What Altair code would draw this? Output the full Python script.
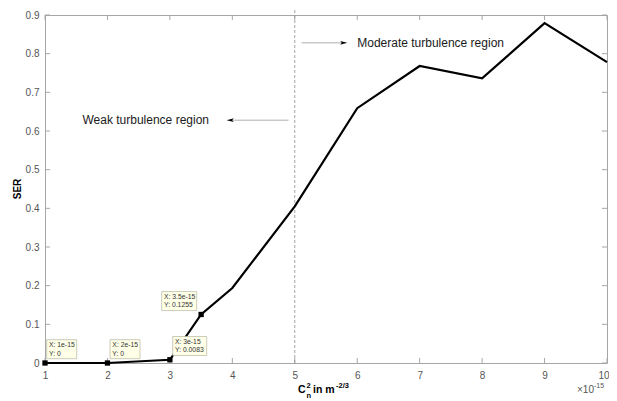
import altair as alt
import pandas as pd

# ---- data ----
x_vals = [1, 2, 3, 3.5, 4, 5, 6, 7, 8, 9, 10]
ser_vals = [0, 0, 0.0083, 0.1255, 0.194, 0.405, 0.659, 0.768, 0.736, 0.879, 0.778]

tip_x = [1, 2, 3, 3.5]
tip_y = [0, 0, 0.0083, 0.1255]
tip_xlabel = ["X: 1e-15", "X: 2e-15", "X: 3e-15", "X: 3.5e-15"]
tip_ylabel = ["Y: 0", "Y: 0", "Y: 0.0083", "Y: 0.1255"]

x_ticks = [1, 2, 3, 4, 5, 6, 7, 8, 9, 10]
y_ticks = [0, 0.1, 0.2, 0.3, 0.4, 0.5, 0.6, 0.7, 0.8, 0.9]

boundary_x = 5
boundary_top = 0.923

moderate_text = "Moderate turbulence region"
moderate_pos = (6.0, 0.828)
moderate_arrow = (5.11, 5.83)  # from, tip
weak_text = "Weak turbulence region"
weak_pos = (1.60, 0.628)
weak_arrow = (4.90, 3.92)  # from, tip

# ---- layout (pixels) ----
W, H = 562, 348
FONT = "Liberation Sans"
GRAY = "#a6a6a6"
LABEL = "#555555"
# datatip box: centre offset from point, width
tip_layout = [(16.7, -13.8, 30), (17.6, -13.8, 30), (19.8, -13.8, 34), (-21.9, -13.4, 35)]
TIP_H = 19

xs = alt.Scale(domain=[1, 10], nice=False, zero=False)
ys = alt.Scale(domain=[0, 0.9], nice=False, zero=False)
xaxis = alt.Axis(values=x_ticks, title=None, ticks=False, domain=False, grid=False,
                 labelPadding=7, labelFontSize=10, labelColor=LABEL, labelFont=FONT,
                 labelFlush=False,
                 labelAlign=alt.ConditionalAxisLabelAlign(
                     condition={"test": "datum.value == 10", "value": "right"}, value="center"),
                 labelOffset=alt.ConditionalAxisNumber(
                     condition={"test": "datum.value == 10", "value": 2}, value=0))
yaxis = alt.Axis(values=y_ticks, title=None, ticks=False, domain=False, grid=False,
                 labelPadding=6, labelFontSize=10, labelColor=LABEL, labelFont=FONT,
                 labelExpr="datum.value == 0 ? '0' : format(datum.value, '.1f')")


def X(f):
    return alt.X(f + ":Q", scale=xs, axis=xaxis)


def Y(f):
    return alt.Y(f + ":Q", scale=ys, axis=yaxis)


main_df = pd.DataFrame({"x": x_vals, "ser": ser_vals})
xt_df = pd.DataFrame({"x": x_ticks})
yt_df = pd.DataFrame({"y": y_ticks})

layers = []
# inner ticks
layers.append(alt.Chart(xt_df).mark_rule(color=GRAY, strokeWidth=1).encode(
    x=X("x"), y=alt.value(H), y2=alt.value(H - 5)))
layers.append(alt.Chart(xt_df).mark_rule(color=GRAY, strokeWidth=1).encode(
    x=X("x"), y=alt.value(0), y2=alt.value(5)))
layers.append(alt.Chart(yt_df).mark_rule(color=GRAY, strokeWidth=1).encode(
    y=Y("y"), x=alt.value(0), x2=alt.value(5)))
layers.append(alt.Chart(yt_df).mark_rule(color=GRAY, strokeWidth=1).encode(
    y=Y("y"), x=alt.value(W), x2=alt.value(W - 5)))

# dashed boundary
bdf = pd.DataFrame({"x": [boundary_x], "y0": [0], "y1": [boundary_top]})
layers.append(alt.Chart(bdf).mark_rule(color="#9a9a9a", strokeWidth=0.9, strokeDash=[3, 2]).encode(
    x=X("x"), y=Y("y0"), y2="y1:Q"))

# main line
layers.append(alt.Chart(main_df).mark_line(color="black", strokeWidth=2.2).encode(
    x=X("x"), y=Y("ser")))

# markers
tip_df = pd.DataFrame({"x": tip_x, "ser": tip_y})
layers.append(alt.Chart(tip_df).mark_square(size=28, color="black", opacity=1).encode(
    x=X("x"), y=Y("ser")))

# arrows
arr_df = pd.DataFrame({"x": [moderate_arrow[0], weak_arrow[0]],
                       "x2": [moderate_arrow[1], weak_arrow[1]],
                       "y": [moderate_pos[1], weak_pos[1]]})
layers.append(alt.Chart(arr_df).mark_rule(color="#9a9a9a", strokeWidth=0.8).encode(
    x=X("x"), x2="x2:Q", y=Y("y")))
head_r = "M-1,-0.55L1,0L-1,0.55L-0.55,0Z"
head_l = "M1,-0.55L-1,0L1,0.55L0.55,0Z"
layers.append(alt.Chart(pd.DataFrame({"x": [moderate_arrow[1]], "y": [moderate_pos[1]]}))
              .mark_point(shape=head_r, size=45, filled=True, color="black", opacity=1, xOffset=-3)
              .encode(x=X("x"), y=Y("y")))
layers.append(alt.Chart(pd.DataFrame({"x": [weak_arrow[1]], "y": [weak_pos[1]]}))
              .mark_point(shape=head_l, size=45, filled=True, color="black", opacity=1, xOffset=3)
              .encode(x=X("x"), y=Y("y")))

# annotation texts
ann_df = pd.DataFrame({"x": [moderate_pos[0], weak_pos[0]],
                       "y": [moderate_pos[1], weak_pos[1]],
                       "t": [moderate_text, weak_text]})
layers.append(alt.Chart(ann_df).mark_text(align="left", baseline="middle", fontSize=12,
                                          font=FONT, color="#1a1a1a").encode(
    x=X("x"), y=Y("y"), text="t:N"))

# datatips
for i in range(len(tip_x)):
    dx, dy, w = tip_layout[i]
    d = pd.DataFrame({"x": [tip_x[i]], "ser": [tip_y[i]],
                      "t": [tip_xlabel[i] + "\n" + tip_ylabel[i]]})
    layers.append(alt.Chart(d).mark_rect(fill="#ffffe8", stroke="#b5b5a0", strokeWidth=0.7,
                                         width=w, height=TIP_H,
                                         xOffset=dx, yOffset=dy).encode(
        x=X("x"), y=Y("ser")))
    layers.append(alt.Chart(d).mark_text(align="left", baseline="alphabetic", fontSize=6.8,
                                         font=FONT, color="#333333", lineBreak="\n",
                                         lineHeight=8.3,
                                         dx=dx - w / 2 + 2.3, dy=dy - TIP_H / 2 + 7.6).encode(
        x=X("x"), y=Y("ser"), text="t:N"))

# axis titles (rich text pieces)
one = pd.DataFrame({"a": [0]})


def txt(s, x, y, size, bold=False, color="black", angle=None, align="left", baseline="alphabetic"):
    kw = dict(text=s, fontSize=size, font=FONT, color=color, align=align, baseline=baseline,
              fontWeight="bold" if bold else "normal")
    if angle is not None:
        kw["angle"] = angle
    return alt.Chart(one).mark_text(**kw).encode(x=alt.value(x), y=alt.value(y))


layers.append(txt("SER", -27.5, H / 2, 10, bold=True, angle=270, align="center", baseline="middle"))
layers.append(txt("C", 253, 378, 10.5, bold=True))
layers.append(txt("2", 261.5, 373, 7.5, bold=True))
layers.append(txt("n", 261.5, 382.5, 7.5, bold=True))
layers.append(txt("in m", 268, 378, 10.5, bold=True))
layers.append(txt("-2/3", 291, 372.5, 7.5, bold=True))
layers.append(txt("×10", 532, 378, 10, color=LABEL))
layers.append(txt("-15", 549, 373, 7, color=LABEL))

chart = alt.layer(*layers).properties(
    width=W, height=H,
    padding={"left": 37, "top": 7, "right": 2, "bottom": 38},
    autosize=alt.AutoSizeParams(type="none"),
    background="white",
).configure_view(stroke=GRAY, strokeWidth=1)

chart.save("out.html", embed_options={"renderer": "svg", "actions": False})
